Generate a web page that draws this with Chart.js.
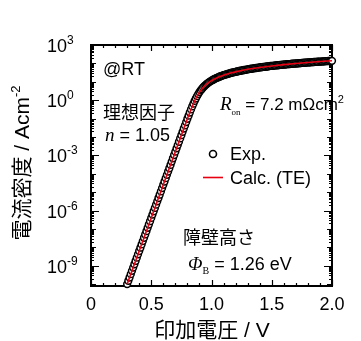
<!DOCTYPE html>
<html>
<head>
<meta charset="utf-8">
<script src="https://cdn.jsdelivr.net/npm/chart.js@4.4.0/dist/chart.umd.min.js"></script>
<style>
  html, body { margin: 0; padding: 0; background: #fff; }
  canvas { display: block; }
</style>
</head>
<body>
<canvas id="ivChart" width="361" height="341"></canvas>
<script>
// DATA
const voltage = [
  0.30, 0.31, 0.32, 0.33, 0.34, 0.35, 0.36, 0.37, 0.38, 0.39,
  0.40, 0.41, 0.42, 0.43, 0.44, 0.45, 0.46, 0.47, 0.48, 0.49,
  0.50, 0.51, 0.52, 0.53, 0.54, 0.55, 0.56, 0.57, 0.58, 0.59,
  0.60, 0.61, 0.62, 0.63, 0.64, 0.65, 0.66, 0.67, 0.68, 0.69,
  0.70, 0.71, 0.72, 0.73, 0.74, 0.75, 0.76, 0.77, 0.78, 0.79,
  0.80, 0.81, 0.82, 0.83, 0.84, 0.85, 0.86, 0.87, 0.88, 0.89,
  0.90, 0.91, 0.92, 0.93, 0.94, 0.95, 0.96, 0.97, 0.98, 0.99,
  1.00, 1.01, 1.02, 1.03, 1.04, 1.05, 1.06, 1.07, 1.08, 1.09,
  1.10, 1.11, 1.12, 1.13, 1.14, 1.15, 1.16, 1.17, 1.18, 1.19,
  1.20, 1.21, 1.22, 1.23, 1.24, 1.25, 1.26, 1.27, 1.28, 1.29,
  1.30, 1.31, 1.32, 1.33, 1.34, 1.35, 1.36, 1.37, 1.38, 1.39,
  1.40, 1.41, 1.42, 1.43, 1.44, 1.45, 1.46, 1.47, 1.48, 1.49,
  1.50, 1.51, 1.52, 1.53, 1.54, 1.55, 1.56, 1.57, 1.58, 1.59,
  1.60, 1.61, 1.62, 1.63, 1.64, 1.65, 1.66, 1.67, 1.68, 1.69,
  1.70, 1.71, 1.72, 1.73, 1.74, 1.75, 1.76, 1.77, 1.78, 1.79,
  1.80, 1.81, 1.82, 1.83, 1.84, 1.85, 1.86, 1.87, 1.88, 1.89,
  1.90, 1.91, 1.92, 1.93, 1.94, 1.95, 1.96, 1.97, 1.98, 1.99,
  2.00
];
// log10 of current density (A/cm2), measured points
const expLogJ = [
  -10.00, -9.82, -9.64, -9.46, -9.28, -9.10, -8.92, -8.74, -8.56, -8.38,
  -8.20, -8.02, -7.84, -7.66, -7.48, -7.30, -7.12, -6.94, -6.76, -6.58,
  -6.40, -6.22, -6.04, -5.86, -5.68, -5.50, -5.32, -5.14, -4.96, -4.78,
  -4.60, -4.42, -4.24, -4.06, -3.88, -3.70, -3.52, -3.34, -3.16, -2.98,
  -2.80, -2.62, -2.44, -2.26, -2.08, -1.90, -1.72, -1.54, -1.37, -1.19,
  -1.01, -0.84, -0.67, -0.50, -0.34, -0.19, -0.04, 0.09, 0.22, 0.33,
  0.44, 0.53, 0.61, 0.69, 0.76, 0.82, 0.88, 0.93, 0.98, 1.02,
  1.06, 1.10, 1.14, 1.17, 1.20, 1.23, 1.26, 1.29, 1.31, 1.34,
  1.36, 1.38, 1.40, 1.42, 1.44, 1.46, 1.48, 1.50, 1.51, 1.53,
  1.54, 1.56, 1.57, 1.59, 1.60, 1.61, 1.63, 1.64, 1.65, 1.66,
  1.68, 1.69, 1.70, 1.71, 1.72, 1.73, 1.74, 1.75, 1.76, 1.77,
  1.78, 1.79, 1.80, 1.81, 1.81, 1.82, 1.83, 1.84, 1.85, 1.86,
  1.86, 1.87, 1.88, 1.89, 1.89, 1.90, 1.91, 1.915, 1.92, 1.93,
  1.935, 1.94, 1.95, 1.955, 1.96, 1.965, 1.97, 1.98, 1.985, 1.99,
  1.995, 2.00, 2.005, 2.01, 2.02, 2.025, 2.03, 2.035, 2.04, 2.045,
  2.05, 2.055, 2.06, 2.065, 2.07, 2.075, 2.08, 2.085, 2.09, 2.095,
  2.10, 2.10, 2.105, 2.11, 2.115, 2.12, 2.125, 2.13, 2.135, 2.14,
  2.14
];
// calculated TE curve
const calcVoltage = [0.30, 0.40, 0.50, 0.60, 0.70, 0.75, 0.78, 0.80, 0.82, 0.84, 0.86, 0.88, 0.90, 0.92, 0.94, 0.96, 0.98, 1.00, 1.03, 1.06, 1.10, 1.15, 1.20, 1.25, 1.30, 1.40, 1.50, 1.60, 1.70, 1.80, 1.90, 2.00];
const calcLogJ = [-10.00, -8.20, -6.40, -4.60, -2.80, -1.90, -1.37, -1.01, -0.67, -0.34, -0.04, 0.22, 0.44, 0.61, 0.76, 0.88, 0.98, 1.06, 1.17, 1.26, 1.36, 1.46, 1.54, 1.61, 1.68, 1.78, 1.86, 1.935, 1.995, 2.05, 2.10, 2.14];

const xTicks = [0, 0.5, 1.0, 1.5, 2.0];
const xTickLabels = ['0', '0.5', '1.0', '1.5', '2.0'];
const yTickExps = [3, 0, -3, -6, -9];

const LATIN = '"Liberation Sans", Arial, sans-serif';
const MIXED = '"Liberation Sans", "Noto Sans CJK JP", sans-serif';
const SERIF = '"Liberation Serif", "Times New Roman", serif';

// draw a row of text pieces with different fonts / offsets
function drawRuns(ctx, x, y, runs, align) {
  let total = 0;
  runs.forEach(r => { ctx.font = r.font; total += ctx.measureText(r.text).width; });
  let cx = align === 'center' ? x - total / 2 : x;
  runs.forEach(r => {
    ctx.font = r.font;
    ctx.fillText(r.text, cx, y + (r.dy || 0));
    cx += ctx.measureText(r.text).width;
  });
}

// FRAME + INWARD TICKS
const framePlugin = {
  id: 'frame',
  beforeDatasetsDraw(chart) {
    const { ctx, chartArea: a, scales: { x, y } } = chart;
    ctx.save();
    ctx.strokeStyle = '#000';
    ctx.lineWidth = 1.2;
    ctx.beginPath();
    // x ticks, every 0.1 V
    for (let i = 0; i <= 20; i++) {
      const px = Math.round(x.getPixelForValue(i / 10)) + 0.5;
      const len = i % 5 === 0 ? 6 : 3;
      ctx.moveTo(px, a.bottom); ctx.lineTo(px, a.bottom - len);
      ctx.moveTo(px, a.top); ctx.lineTo(px, a.top + len);
    }
    // y ticks, decades and 2..9
    for (let e = -11; e <= 3; e++) {
      for (let m = 1; m <= 9; m++) {
        const v = m * Math.pow(10, e);
        if (v < y.min || v > y.max) continue;
        const py = Math.round(y.getPixelForValue(v)) + 0.5;
        let len = 3;
        if (m === 1) len = (e % 3 === 0) ? 8 : 5;
        ctx.moveTo(a.left, py); ctx.lineTo(a.left + len, py);
        ctx.moveTo(a.right, py); ctx.lineTo(a.right - len, py);
      }
    }
    ctx.stroke();
    ctx.lineWidth = 2;
    ctx.strokeRect(a.left, a.top, a.right - a.left, a.bottom - a.top);
    ctx.restore();
  },
  afterDraw(chart) {
    const { ctx, chartArea: a, scales: { x, y } } = chart;
    ctx.save();
    ctx.fillStyle = '#000';
    ctx.textBaseline = 'alphabetic';

    // x tick labels
    ctx.textAlign = 'center';
    ctx.font = '18px ' + LATIN;
    xTicks.forEach((v, i) => ctx.fillText(xTickLabels[i], x.getPixelForValue(v), 310));

    // y tick labels 10^n
    ctx.textAlign = 'left';
    yTickExps.forEach(e => {
      const py = y.getPixelForValue(Math.pow(10, e));
      drawRuns(ctx, 47, py + 7, [
        { text: '10', font: '18px ' + LATIN },
        { text: String(e), font: '12px ' + LATIN, dy: -8 }
      ]);
    });

    // axis titles
    drawRuns(ctx, 212, 337, [{ text: '印加電圧 / V', font: '21px ' + MIXED }], 'center');
    ctx.save();
    ctx.translate(29, 163);
    ctx.rotate(-Math.PI / 2);
    drawRuns(ctx, 0, 0, [
      { text: '電流密度 / Acm', font: '21px ' + MIXED },
      { text: '-2', font: '13px ' + LATIN, dy: -9 }
    ], 'center');
    ctx.restore();

    // annotations
    ctx.font = '18px ' + LATIN;
    ctx.fillText('@RT', 103, 75);
    ctx.font = '18px "Noto Sans CJK JP", sans-serif';
    ctx.fillText('理想因子', 103, 119);
    drawRuns(ctx, 105, 141, [
      { text: 'n', font: 'italic 19px ' + SERIF },
      { text: ' = 1.05', font: '18px ' + LATIN }
    ]);
    drawRuns(ctx, 220, 110, [
      { text: 'R', font: 'italic 19px ' + SERIF },
      { text: 'on', font: '9px ' + SERIF, dy: 5 },
      { text: ' = 7.2 mΩcm', font: '17px ' + LATIN },
      { text: '2', font: '11px ' + LATIN, dy: -7 }
    ]);
    ctx.font = '18px "Noto Sans CJK JP", sans-serif';
    ctx.fillText('障壁高さ', 183, 244);
    drawRuns(ctx, 188, 270, [
      { text: 'Φ', font: 'italic 19px ' + SERIF },
      { text: 'B', font: '10px ' + SERIF, dy: 4 },
      { text: ' = 1.26 eV', font: '18px ' + LATIN }
    ]);

    // legend
    ctx.beginPath();
    ctx.arc(213, 154, 3.5, 0, Math.PI * 2);
    ctx.fillStyle = '#fff';
    ctx.fill();
    ctx.lineWidth = 1.6;
    ctx.strokeStyle = '#000';
    ctx.stroke();
    ctx.fillStyle = '#000';
    ctx.font = '18px ' + LATIN;
    ctx.fillText('Exp.', 230, 160);
    ctx.strokeStyle = '#e60012';
    ctx.lineWidth = 1.6;
    ctx.beginPath();
    ctx.moveTo(203, 177.5); ctx.lineTo(223, 177.5);
    ctx.stroke();
    ctx.fillText('Calc. (TE)', 230, 184);
    ctx.restore();
  }
};

const ctx = document.getElementById('ivChart').getContext('2d');
new Chart(ctx, {
  type: 'scatter',
  data: {
    datasets: [
      {
        label: 'Calc. (TE)',
        data: calcVoltage.map((v, i) => ({ x: v, y: Math.pow(10, calcLogJ[i]) })),
        showLine: true,
        borderColor: '#e60012',
        borderWidth: 1.6,
        pointRadius: 0,
        fill: false
      },
      {
        label: 'Exp.',
        data: voltage.map((v, i) => ({ x: v, y: Math.pow(10, expLogJ[i]) })),
        showLine: false,
        pointRadius: 3.4,
        pointBorderWidth: 1.5,
        pointBorderColor: '#000',
        pointBackgroundColor: '#fff',
        clip: false
      }
    ]
  },
  options: {
    responsive: false,
    animation: false,
    devicePixelRatio: 1,
    layout: { padding: { left: 91, right: 29, top: 45, bottom: 55 } },
    plugins: { legend: { display: false }, tooltip: { enabled: false } },
    scales: {
      x: { type: 'linear', min: 0, max: 2.0, display: false },
      y: { type: 'logarithmic', min: 7.9e-11, max: 1000, display: false }
    }
  },
  plugins: [framePlugin]
});
</script>
</body>
</html>
